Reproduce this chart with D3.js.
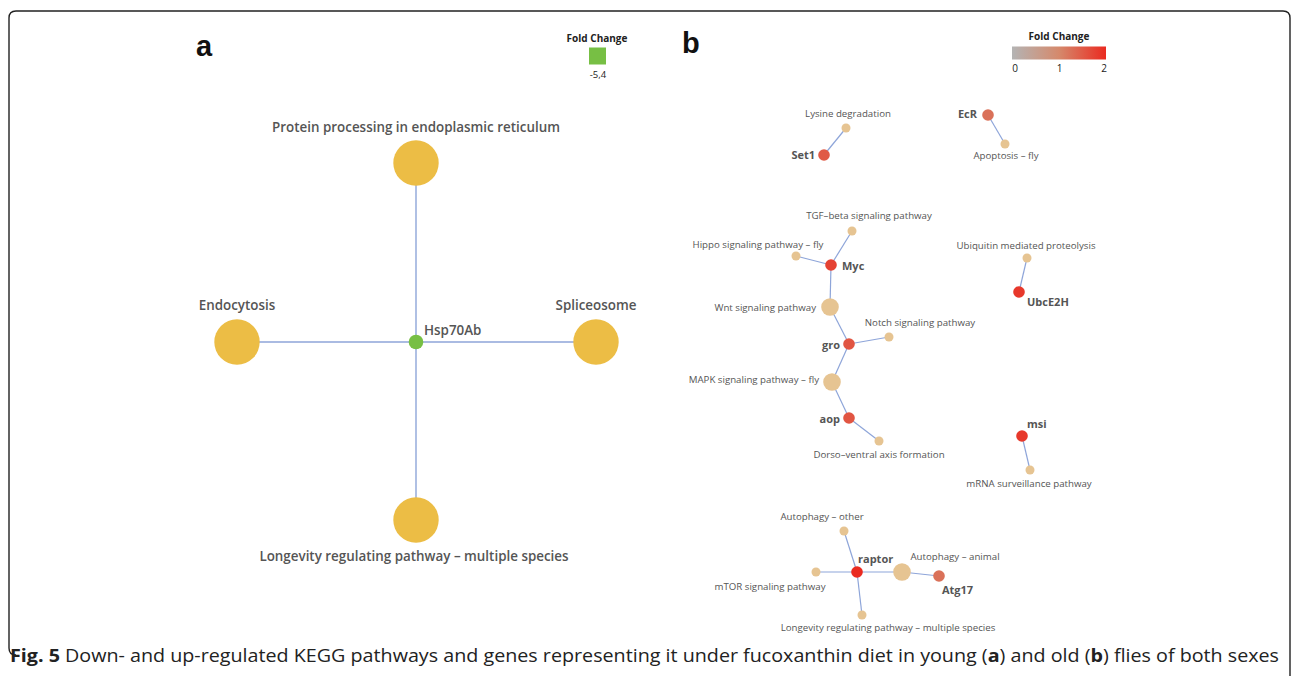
<!DOCTYPE html>
<html>
<head>
<meta charset="utf-8">
<script src="https://cdn.jsdelivr.net/npm/d3@7"></script>
<style>
  html, body { margin: 0; padding: 0; background: #fff; }
  svg { display: block; }
  text { font-family: "Open Sans", "Noto Sans", sans-serif; }
</style>
</head>
<body>
<svg id="fig" width="1292" height="676"></svg>
<script>
// ---- Panel a: one down-regulated gene and its KEGG pathways ----
const geneA = "Hsp70Ab";
const foldChangeA = -5.4;
const pathwaysA = [
  "Protein processing in endoplasmic reticulum",
  "Endocytosis",
  "Spliceosome",
  "Longevity regulating pathway \u2013 multiple species"
];

// ---- Panel b: up-regulated genes (fold change) and their pathways ----
const genesB = ["Set1", "EcR", "Myc", "gro", "aop", "UbcE2H", "msi", "raptor", "Atg17"];
const foldChangeB = [1.5, 1.25, 1.75, 1.55, 1.55, 1.85, 1.85, 2.0, 1.25];
const pathwaysB = [
  "Lysine degradation", "Apoptosis \u2013 fly", "TGF\u2013beta signaling pathway",
  "Hippo signaling pathway \u2013 fly", "Wnt signaling pathway", "Notch signaling pathway",
  "MAPK signaling pathway \u2013 fly", "Dorso\u2013ventral axis formation",
  "Ubiquitin mediated proteolysis", "mRNA surveillance pathway",
  "Autophagy \u2013 other", "Autophagy \u2013 animal", "mTOR signaling pathway",
  "Longevity regulating pathway \u2013 multiple species"
];
const linksB = [
  ["Set1", "Lysine degradation"],
  ["EcR", "Apoptosis \u2013 fly"],
  ["Myc", "TGF\u2013beta signaling pathway"],
  ["Myc", "Hippo signaling pathway \u2013 fly"],
  ["Myc", "Wnt signaling pathway"],
  ["gro", "Wnt signaling pathway"],
  ["gro", "Notch signaling pathway"],
  ["gro", "MAPK signaling pathway \u2013 fly"],
  ["aop", "MAPK signaling pathway \u2013 fly"],
  ["aop", "Dorso\u2013ventral axis formation"],
  ["UbcE2H", "Ubiquitin mediated proteolysis"],
  ["msi", "mRNA surveillance pathway"],
  ["raptor", "Autophagy \u2013 other"],
  ["raptor", "mTOR signaling pathway"],
  ["raptor", "Autophagy \u2013 animal"],
  ["Atg17", "Autophagy \u2013 animal"],
  ["raptor", "Longevity regulating pathway \u2013 multiple species"]
];
const legendTicksB = [0, 1, 2];

// ---- Network layout (pixel positions of each node, label placement) ----
const layoutA = {
  "Hsp70Ab": { x: 416, y: 342, lx: 8, ly: -7, anchor: "start" },
  "Protein processing in endoplasmic reticulum": { x: 416, y: 163, lx: 0, ly: -31, anchor: "middle" },
  "Endocytosis": { x: 237, y: 342, lx: 0, ly: -32, anchor: "middle" },
  "Spliceosome": { x: 596, y: 342, lx: 0, ly: -32, anchor: "middle" },
  "Longevity regulating pathway \u2013 multiple species": { x: 416, y: 520, lx: -2, ly: 41, anchor: "middle" }
};
const layoutB = {
  "Set1": { x: 824, y: 155, lx: -9, ly: 4, anchor: "end" },
  "Lysine degradation": { x: 846, y: 128, lx: 2, ly: -11, anchor: "middle" },
  "EcR": { x: 988, y: 115, lx: -11, ly: 3, anchor: "end" },
  "Apoptosis \u2013 fly": { x: 1005, y: 144, lx: 1, ly: 15, anchor: "middle" },
  "Myc": { x: 831, y: 265, lx: 11, ly: 5, anchor: "start" },
  "TGF\u2013beta signaling pathway": { x: 852, y: 231, lx: 17, ly: -12, anchor: "middle" },
  "Hippo signaling pathway \u2013 fly": { x: 796, y: 256, lx: -38, ly: -8, anchor: "middle" },
  "Wnt signaling pathway": { x: 830, y: 307, lx: -14, ly: 4, anchor: "end" },
  "gro": { x: 849, y: 344, lx: -9, ly: 5, anchor: "end" },
  "Notch signaling pathway": { x: 889, y: 337, lx: 31, ly: -11, anchor: "middle" },
  "MAPK signaling pathway \u2013 fly": { x: 832, y: 382, lx: -13, ly: 1, anchor: "end" },
  "aop": { x: 849, y: 418, lx: -9, ly: 5, anchor: "end" },
  "Dorso\u2013ventral axis formation": { x: 879, y: 441, lx: 0, ly: 17, anchor: "middle" },
  "Ubiquitin mediated proteolysis": { x: 1027, y: 258, lx: -1, ly: -9, anchor: "middle" },
  "UbcE2H": { x: 1019, y: 292, lx: 8, ly: 14, anchor: "start" },
  "msi": { x: 1022, y: 436, lx: 5, ly: -8, anchor: "start" },
  "mRNA surveillance pathway": { x: 1030, y: 470, lx: -1, ly: 17, anchor: "middle" },
  "raptor": { x: 857, y: 572, lx: 1, ly: -9, anchor: "start" },
  "Autophagy \u2013 other": { x: 844, y: 531, lx: -22, ly: -11, anchor: "middle" },
  "Autophagy \u2013 animal": { x: 902, y: 572, lx: 53, ly: -12, anchor: "middle" },
  "Atg17": { x: 939, y: 576, lx: 3, ly: 18, anchor: "start" },
  "mTOR signaling pathway": { x: 816, y: 572, lx: -46, ly: 18, anchor: "middle" },
  "Longevity regulating pathway \u2013 multiple species": { x: 862, y: 615, lx: 26, ly: 16, anchor: "middle" }
};

const svg = d3.select("#fig");
const EDGE = "#8ea5d9";
const LABEL = "#555555";

// Frame around the figure
svg.append("path")
  .attr("d", "M9,648 Q9,655 16,655 M9,648 L9,18 Q9,11 16,11 L1283,11 Q1290,11 1290,18 L1290,676")
  .attr("fill", "none").attr("stroke", "#222").attr("stroke-width", 1.4);

// ---------- Panel a ----------
const gA = svg.append("g");
gA.append("text").text("a").attr("x", 196).attr("y", 56)
  .style("font-family", "'Liberation Sans', Arial, sans-serif")
  .attr("font-size", 29).attr("font-weight", "bold").attr("fill", "#111");

const colorA = d3.scaleOrdinal().domain(["down"]).range(["#77bf44"]);
const rA = d3.scaleOrdinal().domain(["gene", "pathway"]).range([7.3, 22.7]);

pathwaysA.forEach(p => {
  gA.append("line")
    .attr("x1", layoutA[geneA].x).attr("y1", layoutA[geneA].y)
    .attr("x2", layoutA[p].x).attr("y2", layoutA[p].y)
    .attr("stroke", EDGE).attr("stroke-width", 1.4);
});
pathwaysA.forEach(p => {
  const L = layoutA[p];
  gA.append("circle").attr("cx", L.x).attr("cy", L.y).attr("r", rA("pathway"))
    .attr("fill", "#ecbd45");
  gA.append("text").text(p).attr("x", L.x + L.lx).attr("y", L.y + L.ly)
    .attr("text-anchor", L.anchor).attr("font-size", 13.4).attr("font-weight", 600)
    .attr("fill", LABEL);
});
{
  const L = layoutA[geneA];
  gA.append("circle").attr("cx", L.x).attr("cy", L.y).attr("r", rA("gene"))
    .attr("fill", colorA("down"));
  gA.append("text").text(geneA).attr("x", L.x + L.lx).attr("y", L.y + L.ly)
    .attr("text-anchor", L.anchor).attr("font-size", 13.4).attr("font-weight", 600)
    .attr("fill", LABEL);
}
// Legend a
const legA = svg.append("g");
legA.append("text").text("Fold Change").attr("x", 597).attr("y", 42)
  .attr("text-anchor", "middle").attr("font-size", 10).attr("font-weight", "bold")
  .attr("fill", "#222");
legA.append("rect").attr("x", 589).attr("y", 47.5).attr("width", 17).attr("height", 17)
  .attr("fill", colorA("down"));
legA.append("text").text(d3.format(".1f")(foldChangeA).replace(".", ",").replace("\u2212", "-"))
  .attr("x", 598).attr("y", 78).attr("text-anchor", "middle")
  .attr("font-size", 9.5).attr("fill", "#222");

// ---------- Panel b ----------
const gB = svg.append("g");
gB.append("text").text("b").attr("x", 682).attr("y", 53)
  .style("font-family", "'Liberation Sans', Arial, sans-serif")
  .attr("font-size", 29).attr("font-weight", "bold").attr("fill", "#111");

const fcColor = d3.scaleLinear().domain([0, 1, 2])
  .range(["#b4b4b4", "#d5896c", "#ea2a20"]).interpolate(d3.interpolateRgb);
const degree = new Map();
linksB.forEach(([g, p]) => degree.set(p, (degree.get(p) || 0) + 1));
const rPath = d3.scaleLinear().domain([1, 2]).range([4.5, 8.8]);

linksB.forEach(([g, p]) => {
  gB.append("line")
    .attr("x1", layoutB[g].x).attr("y1", layoutB[g].y)
    .attr("x2", layoutB[p].x).attr("y2", layoutB[p].y)
    .attr("stroke", EDGE).attr("stroke-width", 1.2);
});
pathwaysB.forEach(p => {
  const L = layoutB[p];
  gB.append("circle").attr("cx", L.x).attr("cy", L.y).attr("r", rPath(degree.get(p)))
    .attr("fill", "#e6c492");
  gB.append("text").text(p).attr("x", L.x + L.lx).attr("y", L.y + L.ly)
    .attr("text-anchor", L.anchor).attr("font-size", 9.7).attr("fill", LABEL);
});
genesB.forEach((g, i) => {
  const L = layoutB[g];
  gB.append("circle").attr("cx", L.x).attr("cy", L.y).attr("r", 5.8)
    .attr("fill", fcColor(foldChangeB[i]));
  gB.append("text").text(g).attr("x", L.x + L.lx).attr("y", L.y + L.ly)
    .attr("text-anchor", L.anchor).attr("font-size", 11).attr("font-weight", "bold")
    .attr("fill", LABEL);
});

// Legend b: colour ramp
const legX = d3.scaleLinear().domain([0, 2]).range([1015, 1104]);
const defs = svg.append("defs");
const grad = defs.append("linearGradient").attr("id", "fcRamp");
d3.range(0, 2.01, 0.25).forEach(t => grad.append("stop")
  .attr("offset", (t / 2 * 100) + "%").attr("stop-color", fcColor(t)));
const legB = svg.append("g");
legB.append("text").text("Fold Change").attr("x", 1059).attr("y", 40)
  .attr("text-anchor", "middle").attr("font-size", 10).attr("font-weight", "bold")
  .attr("fill", "#222");
legB.append("rect").attr("x", 1012).attr("y", 46.5).attr("width", 94).attr("height", 13)
  .attr("fill", "url(#fcRamp)");
legB.selectAll("text.tick").data(legendTicksB).enter().append("text")
  .attr("class", "tick").text(d => d)
  .attr("x", d => legX(d)).attr("y", 72).attr("text-anchor", "middle")
  .attr("font-size", 10).attr("fill", "#222");

// ---------- Caption ----------
const cap = svg.append("text").attr("x", 10).attr("y", 662)
  .style("font-family", "'Open Sans', sans-serif").attr("font-size", 17.5).attr("fill", "#222")
  .attr("textLength", 1269).attr("lengthAdjust", "spacingAndGlyphs");
const parts = [
  ["Fig. 5", true], [" Down- and up-regulated KEGG pathways and genes representing it under fucoxanthin diet in young (", false],
  ["a", true], [") and old (", false], ["b", true], [") flies of both sexes", false]
];
parts.forEach(([t, b]) => cap.append("tspan").text(t).attr("font-weight", b ? "bold" : "normal"));
</script>
</body>
</html>
